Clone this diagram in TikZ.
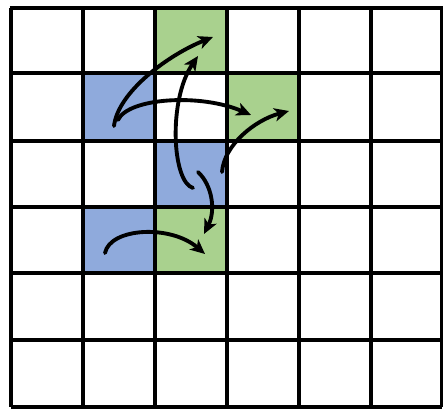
\documentclass[tikz,border=0pt]{standalone}
\usetikzlibrary{arrows.meta}
\definecolor{cgreen}{HTML}{A9D18E}
\definecolor{cblue}{HTML}{8FAADC}
\begin{document}
\begin{tikzpicture}[x=0.75pt,y=-0.75pt,
  gridline/.style={line width=2.3pt,black},
  mv/.style={line width=2.9pt,-{Stealth[length=11pt,width=10pt,inset=3pt]},line cap=round},
  gcell/.style={fill=cgreen},
  bcell/.style={fill=cblue}]
\useasboundingbox (0,0) rectangle (443,409);
% colored cells
\fill[gcell] (155,8) rectangle (227,73);
\fill[gcell] (227,73) rectangle (299,141);
\fill[gcell] (155,207) rectangle (227,273);
\fill[bcell] (83,73) rectangle (155,141);
\fill[bcell] (155,141) rectangle (227,207);
\fill[bcell] (83,207) rectangle (155,273);
% grid
\foreach \x in {11,83,155,227,299,371,441.5} \draw[gridline] (\x,8) -- (\x,407);
\foreach \y in {8,73,141,207,273,340,407} \draw[gridline] (11,\y) -- (441.5,\y);
\draw[line width=3.2pt] (9.5,8) -- (443,8);
% arrow endpoints
\coordinate (a1s) at (114,126); \coordinate (a1e) at (213,37);
\coordinate (a2s) at (118,120); \coordinate (a2e) at (251,115);
\coordinate (a3s) at (193,188); \coordinate (a3e) at (198,56);
\coordinate (a4s) at (222,172); \coordinate (a4e) at (289,111);
\coordinate (a5s) at (198,172); \coordinate (a5e) at (204,234);
\coordinate (a6s) at (105,253); \coordinate (a6e) at (205,254);
% arrows
\draw[mv] (a1s) .. controls (118,92) and (168,55) .. (a1e);
\draw[mv] (a2s) .. controls (128,98) and (200,93) .. (a2e);
\draw[mv] (a3s) .. controls (172,182) and (168,100) .. (a3e);
\draw[mv] (a4s) .. controls (224,145) and (255,120) .. (a4e);
\draw[mv] (a5s) .. controls (212,185) and (216,210) .. (a5e);
\draw[mv] (a6s) .. controls (110,228) and (170,224) .. (a6e);
\end{tikzpicture}
\end{document}
